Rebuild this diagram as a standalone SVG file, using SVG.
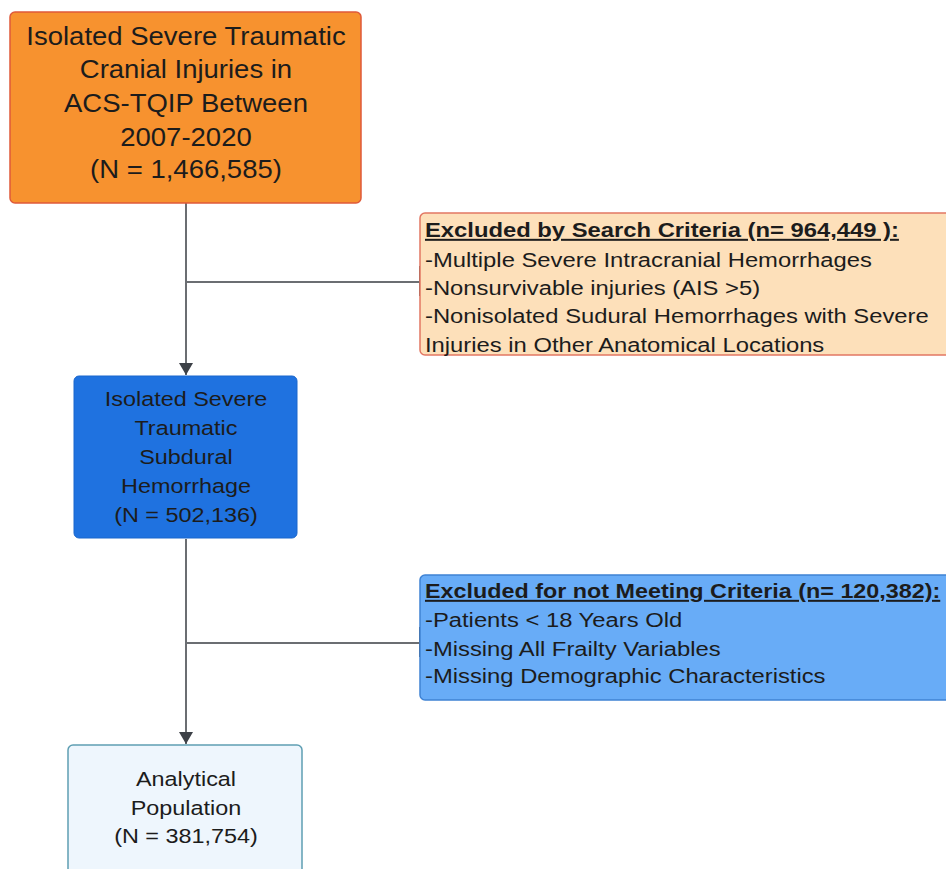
<svg xmlns="http://www.w3.org/2000/svg" width="946" height="869" viewBox="0 0 946 869">
<defs>
<marker id="arr" viewBox="0 0 12 14" refX="12" refY="7" markerWidth="12" markerHeight="14" markerUnits="userSpaceOnUse" orient="auto">
<path d="M0,0 L12,7 L0,14 z" fill="#3d4147"/>
</marker>
<style>
text{font-family:"Liberation Sans",Arial,sans-serif;fill:#1c1c1c}
.c{text-anchor:middle}
.t1{font-size:25px}
.t2{font-size:20px}
.t3{font-size:19.5px}
.h{font-weight:bold;text-decoration:underline}
.ln{stroke:#6b6e72;stroke-width:2;fill:none}
</style>
</defs>
<rect width="946" height="869" fill="#ffffff"/>
<g id="connectors">
<line class="ln" x1="186" y1="203" x2="186" y2="375" marker-end="url(#arr)"/>
<line class="ln" x1="186" y1="282" x2="420" y2="282"/>
<line x1="420" y1="266" x2="420" y2="296" stroke="#555" stroke-width="2"/>
<line class="ln" x1="186" y1="539" x2="186" y2="744" marker-end="url(#arr)"/>
<line class="ln" x1="186" y1="643" x2="420" y2="643"/>
<line x1="420" y1="627" x2="420" y2="657" stroke="#555" stroke-width="2"/>
</g>
<g id="n1">
<rect x="10" y="12" width="351" height="191" rx="5" fill="#f7922f" stroke="#df5a3a" stroke-width="1.5"/>
<g transform="translate(186 0) scale(1.1 1) translate(-186 0)">
<text class="t1 c" x="186" y="45">Isolated Severe Traumatic</text>
<text class="t1 c" x="186" y="78">Cranial Injuries in</text>
<text class="t1 c" x="186" y="112">ACS-TQIP Between</text>
<text class="t1 c" x="186" y="146">2007-2020</text>
<text class="t1 c" x="186" y="178">(N = 1,466,585)</text>
</g>
</g>
<g id="n2">
<rect x="420" y="213" width="540" height="142" rx="5" fill="#fde0ba" stroke="#e27763" stroke-width="1.5"/>
<g transform="translate(425 0) scale(1.19 1) translate(-425 0)">
<text class="t2 h" x="425" y="237">Excluded by Search Criteria (n= 964,449 ):</text>
<text class="t2" x="425" y="267">-Multiple Severe Intracranial Hemorrhages</text>
<text class="t2" x="425" y="295">-Nonsurvivable injuries (AIS &gt;5)</text>
<text class="t2" x="425" y="323">-Nonisolated Sudural Hemorrhages with Severe</text>
<text class="t2" x="425" y="352">Injuries in Other Anatomical Locations</text>
</g>
</g>
<g id="n3">
<rect x="74" y="376" width="223" height="162" rx="5" fill="#1f72e0" stroke="#1a66cc" stroke-width="1"/>
<g transform="translate(186 0) scale(1.2 1) translate(-186 0)">
<text class="t3 c" x="186" y="406">Isolated Severe</text>
<text class="t3 c" x="186" y="435">Traumatic</text>
<text class="t3 c" x="186" y="464">Subdural</text>
<text class="t3 c" x="186" y="493">Hemorrhage</text>
<text class="t3 c" x="186" y="522">(N = 502,136)</text>
</g>
</g>
<g id="n4">
<rect x="420" y="575" width="540" height="125" rx="5" fill="#68acf7" stroke="#3f83d4" stroke-width="1.5"/>
<g transform="translate(425 0) scale(1.19 1) translate(-425 0)">
<text class="t2 h" x="425" y="598" textLength="433" lengthAdjust="spacingAndGlyphs">Excluded for not Meeting Criteria (n= 120,382):</text>
<text class="t2" x="425" y="627">-Patients &lt; 18 Years Old</text>
<text class="t2" x="425" y="656">-Missing All Frailty Variables</text>
<text class="t2" x="425" y="683">-Missing Demographic Characteristics</text>
</g>
</g>
<g id="n5">
<rect x="68" y="745" width="234" height="140" rx="5" fill="#eef6fd" stroke="#5f9fb3" stroke-width="1.5"/>
<g transform="translate(186 0) scale(1.2 1) translate(-186 0)">
<text class="t3 c" x="186" y="786">Analytical</text>
<text class="t3 c" x="186" y="815">Population</text>
<text class="t3 c" x="186" y="843">(N = 381,754)</text>
</g>
</g>
</svg>
